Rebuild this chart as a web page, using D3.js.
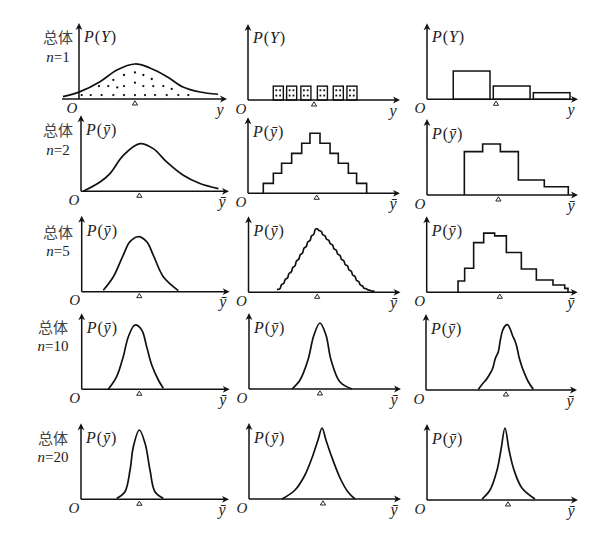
<!DOCTYPE html>
<html><head><meta charset="utf-8">
<script src="https://cdn.jsdelivr.net/npm/d3@7"></script>
<style>body{margin:0;background:#fff}svg{display:block}</style>
</head><body>
<svg id="c" width="601" height="539"></svg>
<script>
// ---------------- data ----------------
const groupLabel = "总体";
const sampleSizes = ["1", "2", "5", "10", "20"];
const densityVar = ["Y", "ȳ", "ȳ", "ȳ", "ȳ"];
const xAxisVar = ["y", "ȳ", "ȳ", "ȳ", "ȳ"];

// row 1 : three populations
const pop1Curve = [[-1.07,0.31],[0.07,0.98],[1.4,2.31],[2.53,3.87],[3.73,4.67],[4.73,4.14],[5.87,2.98],[6.93,1.6],[8.07,0.93],[9.27,0.63]];
const pop1Dots = [[0.18,0.53],[0.78,0.53],[1.51,0.53],[2.29,0.53],[3.0,0.53],[3.73,0.53],[4.4,0.53],[5.07,0.53],[5.85,0.53],[6.62,0.53],[7.29,0.53],
  [1.33,1.73],[1.95,1.73],[2.55,1.55],[3.0,1.73],[4.29,1.73],[4.95,1.73],[5.62,1.73],[6.18,1.35],
  [3.73,2.18],[2.29,2.54],[4.85,2.67],[3.0,3.2],[4.29,3.2],[3.73,3.55]];
const pop2BoxCenters = [2.02, 2.91, 3.86, 4.96, 6.02, 6.93];
const pop2BoxWidth = 0.67, pop2BoxHeight = 1.85;
const pop3Bars = [[1.75,4.2,3.77],[4.42,6.87,1.77],[7.09,9.53,0.88]];

// row 2 : n = 2
const n2Curve = [[0.15,0],[1.27,1.24],[1.93,2.36],[2.82,4.8],[3.93,6.36],[4.82,5.69],[5.71,3.91],[6.82,2.13],[7.93,1.03],[9.16,0.36]];
const n2StepEdges = [1.02,1.69,2.24,2.91,3.58,4.13,4.8,5.47,6.02,6.69,7.24,7.91];
const n2StepHeights = [1.33,2.67,4.0,5.33,6.67,8.0,6.67,5.33,4.0,2.67,1.33];
const n2SkewEdges = [2.49,3.71,4.89,6.09,7.82,9.42];
const n2SkewHeights = [5.78,6.8,5.78,2.0,1.1];

// row 3 : n = 5
const n5Curve = [[1.44,0.2],[2.11,2.0],[2.77,4.89],[3.22,6.67],[3.77,7.33],[4.33,6.67],[4.77,4.89],[5.44,2.0],[6.44,0.15]];
const n5WiggleStart = 1.9, n5WiggleBin = 0.25;
const n5WiggleHeights = [0.4,1.1,1.8,2.6,3.4,4.3,5.1,6.0,6.8,7.6,8.5,8.2,7.6,7.0,6.4,5.7,5.0,4.3,3.6,2.9,2.2,1.5,0.9,0.5,0.3,0.15];
const n5SkewEdges = [2.09,2.53,3.13,3.8,4.53,5.31,6.31,7.31,8.42,9.2,9.42];
const n5SkewHeights = [1.51,3.2,6.63,7.89,7.52,5.31,3.11,1.64,0.97,0.53];

// row 4 : n = 10
const n10Curve1 = [[1.77,0],[2.33,1.69],[2.77,4.35],[3.11,7.01],[3.55,8.57],[4.0,7.91],[4.33,5.69],[4.67,3.24],[5.11,1.24],[5.44,0.13]];
const n10Curve2 = [[2.87,0],[3.4,1.2],[3.93,3.87],[4.33,7.2],[4.73,8.8],[5.13,7.2],[5.47,3.87],[6.07,0.93],[6.87,0]];
const n10Curve3 = [[3.49,0.09],[3.8,0.9],[4.04,1.45],[4.3,2.3],[4.45,2.9],[4.62,4.2],[4.82,5.1],[4.95,6.6],[5.1,7.9],[5.3,8.6],[5.45,8.7],[5.62,8.1],[5.78,7.2],[5.92,6.6],[6.05,5.8],[6.2,4.4],[6.38,3.2],[6.55,2.3],[6.82,1.1],[7.15,0.09]];

// row 5 : n = 20
const n20Curve1 = [[2.38,0.13],[2.93,1.01],[3.27,3.91],[3.49,7.01],[3.89,9.24],[4.27,7.47],[4.6,3.91],[4.93,1.01],[5.49,0.13]];
const n20Curve2 = [[2.2,0],[3.07,1.2],[3.73,3.2],[4.27,5.87],[4.6,7.87],[4.87,9.47],[5.13,7.87],[5.47,5.87],[6.07,2.8],[6.6,0.93],[7.07,0]];
const n20Curve3 = [[3.67,0.13],[4.2,1.33],[4.67,4.0],[4.93,6.67],[5.2,9.6],[5.47,6.67],[5.8,4.0],[6.33,1.6],[7.2,0.13]];

// mean markers (triangles) per row / column
const means = [[3.73,4.4,4.6],[3.89,4.58,4.76],[3.84,4.58,4.87],[3.84,4.73,5.33],[3.89,4.93,5.4]];

// ---------------- layout ----------------
const origins = [
  [[79,99],[248,100],[427,99.3]],
  [[81,191.3],[248,193.3],[427,195]],
  [[81.7,291.7],[248.5,292.3],[426.7,292.3]],
  [[81.7,389.3],[249,389],[426,390]],
  [[81,499.3],[249,499],[427,500]]
];
const xAxisLen = [148,152,151];
const yAxisLen = 76;
const labelCx = [58,58,58,53,53];
const groupCy = [36,129,231,326,437.5];
const nCy = [57,150,251,346,457];

const ink = "#111";
const serif = "'Liberation Serif','DejaVu Serif',serif";
const cjk = "'Noto Sans CJK SC','Noto Sans CJK TC',sans-serif";

const svg = d3.select("#c");

function scales(r,c){
  const [ox,oy] = origins[r][c];
  return {ox, oy,
    x: d3.scaleLinear().domain([0,10]).range([ox, ox+150]),
    y: d3.scaleLinear().domain([0,10]).range([oy, oy-75])};
}

function axes(g, r, c, xFrom){
  const {ox,oy} = scales(r,c);
  const x0 = xFrom !== undefined ? xFrom : ox;
  const xe = ox + xAxisLen[c], ye = oy - yAxisLen;
  g.append("line").attr("x1",x0).attr("y1",oy).attr("x2",xe-3).attr("y2",oy)
    .attr("stroke",ink).attr("stroke-width",1.5);
  g.append("line").attr("x1",ox).attr("y1",oy).attr("x2",ox).attr("y2",ye+3)
    .attr("stroke",ink).attr("stroke-width",1.5);
  g.append("path").attr("d",`M${xe},${oy} L${xe-7},${oy-3.4} L${xe-5},${oy} L${xe-7},${oy+3.4} Z`).attr("fill",ink);
  g.append("path").attr("d",`M${ox},${ye} L${ox-3.4},${ye+7} L${ox},${ye+5} L${ox+3.4},${ye+7} Z`).attr("fill",ink);
  // origin label
  g.append("text").attr("x",ox-7).attr("y",oy+13.5).attr("text-anchor","middle")
    .attr("font-family",serif).attr("font-style","italic").attr("font-size",15).attr("fill","#222").text("O");
  // x label
  g.append("text").attr("x",xe-7).attr("y",oy+15.5).attr("text-anchor","middle")
    .attr("font-family",serif).attr("font-style","italic").attr("font-size",16).attr("fill","#222").text(xAxisVar[r]);
  // P(.) label
  const t = g.append("text").attr("x",ox+5).attr("y",oy-(r===0?63:62)).attr("dominant-baseline","central")
    .attr("font-family",serif).attr("font-size",16).attr("letter-spacing",0.9).attr("fill","#222");
  t.append("tspan").attr("font-style","italic").text("P");
  t.append("tspan").text("(");
  t.append("tspan").attr("font-style","italic").text(densityVar[r]);
  t.append("tspan").text(")");
}

function meanMark(g, r, c){
  const s = scales(r,c);
  const mx = s.x(means[r][c]), top = s.oy + 1.8;
  g.append("path").attr("d",`M${mx},${top} L${mx-2.6},${top+4.2} L${mx+2.6},${top+4.2} Z`)
    .attr("fill","#fff").attr("stroke",ink).attr("stroke-width",0.9);
}

function smooth(g, r, c, pts, curve){
  const s = scales(r,c);
  const line = d3.line().x(d=>s.x(d[0])).y(d=>s.y(d[1])).curve(curve || d3.curveCatmullRom.alpha(0.5));
  g.append("path").attr("d",line(pts)).attr("fill","none").attr("stroke",ink).attr("stroke-width",1.7)
    .attr("stroke-linejoin","round");
}

function stepPts(edges, heights){
  const p = [[edges[0],0]];
  heights.forEach((h,i)=>{ p.push([edges[i],h]); p.push([edges[i+1],h]); });
  p.push([edges[edges.length-1],0]);
  return p;
}

function steps(g, r, c, edges, heights){
  const s = scales(r,c);
  const line = d3.line().x(d=>s.x(d[0])).y(d=>s.y(d[1]));
  g.append("path").attr("d",line(stepPts(edges,heights))).attr("fill","none").attr("stroke",ink)
    .attr("stroke-width",1.6).attr("stroke-linejoin","miter");
}

// row labels
sampleSizes.forEach((n,r)=>{
  svg.append("text").attr("x",labelCx[r]).attr("y",groupCy[r]).attr("text-anchor","middle")
    .attr("dominant-baseline","central").attr("font-family",cjk).attr("font-size",15).attr("fill","#444").text(groupLabel);
  const t = svg.append("text").attr("x",labelCx[r]).attr("y",nCy[r]).attr("text-anchor","middle")
    .attr("dominant-baseline","central").attr("font-family",serif).attr("font-size",15).attr("fill","#222");
  t.append("tspan").attr("font-style","italic").text("n");
  t.append("tspan").text("=" + n);
});

// ---- row 1 ----
{
  const g = svg.append("g");
  const s = scales(0,0);
  axes(g,0,0, s.x(-1.13));
  smooth(g,0,0,pop1Curve);
  g.selectAll("circle.d").data(pop1Dots).join("circle").attr("cx",d=>s.x(d[0])).attr("cy",d=>s.y(d[1]))
    .attr("r",1.15).attr("fill",ink);
  meanMark(g,0,0);
}
{
  const g = svg.append("g");
  const s = scales(0,1);
  axes(g,0,1);
  const bw = s.x(pop2BoxWidth)-s.x(0), bh = s.y(0)-s.y(pop2BoxHeight);
  pop2BoxCenters.forEach(cx=>{
    const x0 = s.x(cx - pop2BoxWidth/2), y0 = s.y(pop2BoxHeight);
    g.append("rect").attr("x",x0).attr("y",y0).attr("width",bw).attr("height",bh)
      .attr("fill","none").attr("stroke",ink).attr("stroke-width",1.4);
    [0.3,0.68].forEach(fx=>[0.3,0.68].forEach(fy=>{
      g.append("rect").attr("x",x0+bw*fx-0.9).attr("y",y0+bh*fy-0.9).attr("width",1.8).attr("height",1.8).attr("fill",ink);
    }));
  });
  meanMark(g,0,1);
}
{
  const g = svg.append("g");
  const s = scales(0,2);
  axes(g,0,2);
  pop3Bars.forEach(([a,b,h])=>{
    g.append("rect").attr("x",s.x(a)).attr("y",s.y(h)).attr("width",s.x(b)-s.x(a)).attr("height",s.y(0)-s.y(h))
      .attr("fill","none").attr("stroke",ink).attr("stroke-width",1.5);
  });
  meanMark(g,0,2);
}

// ---- row 2 ----
{ const g = svg.append("g"); axes(g,1,0); smooth(g,1,0,n2Curve); meanMark(g,1,0); }
{ const g = svg.append("g"); axes(g,1,1); steps(g,1,1,n2StepEdges,n2StepHeights); meanMark(g,1,1); }
{ const g = svg.append("g"); axes(g,1,2); steps(g,1,2,n2SkewEdges,n2SkewHeights); meanMark(g,1,2); }

// ---- row 3 ----
{ const g = svg.append("g"); axes(g,2,0); smooth(g,2,0,n5Curve); meanMark(g,2,0); }
{
  const g = svg.append("g"); axes(g,2,1);
  const edges = n5WiggleHeights.map((_,i)=>n5WiggleStart + i*n5WiggleBin).concat([n5WiggleStart + n5WiggleHeights.length*n5WiggleBin]);
  const pts = stepPts(edges, n5WiggleHeights).slice(1,-1);
  smooth(g,2,1,pts,d3.curveBasis);
  meanMark(g,2,1);
}
{ const g = svg.append("g"); axes(g,2,2); steps(g,2,2,n5SkewEdges,n5SkewHeights); meanMark(g,2,2); }

// ---- row 4 ----
{ const g = svg.append("g"); axes(g,3,0); smooth(g,3,0,n10Curve1); meanMark(g,3,0); }
{ const g = svg.append("g"); axes(g,3,1); smooth(g,3,1,n10Curve2); meanMark(g,3,1); }
{ const g = svg.append("g"); axes(g,3,2); smooth(g,3,2,n10Curve3); meanMark(g,3,2); }

// ---- row 5 ----
{ const g = svg.append("g"); axes(g,4,0); smooth(g,4,0,n20Curve1); meanMark(g,4,0); }
{ const g = svg.append("g"); axes(g,4,1); smooth(g,4,1,n20Curve2); meanMark(g,4,1); }
{ const g = svg.append("g"); axes(g,4,2); smooth(g,4,2,n20Curve3); meanMark(g,4,2); }
</script>
</body></html>
